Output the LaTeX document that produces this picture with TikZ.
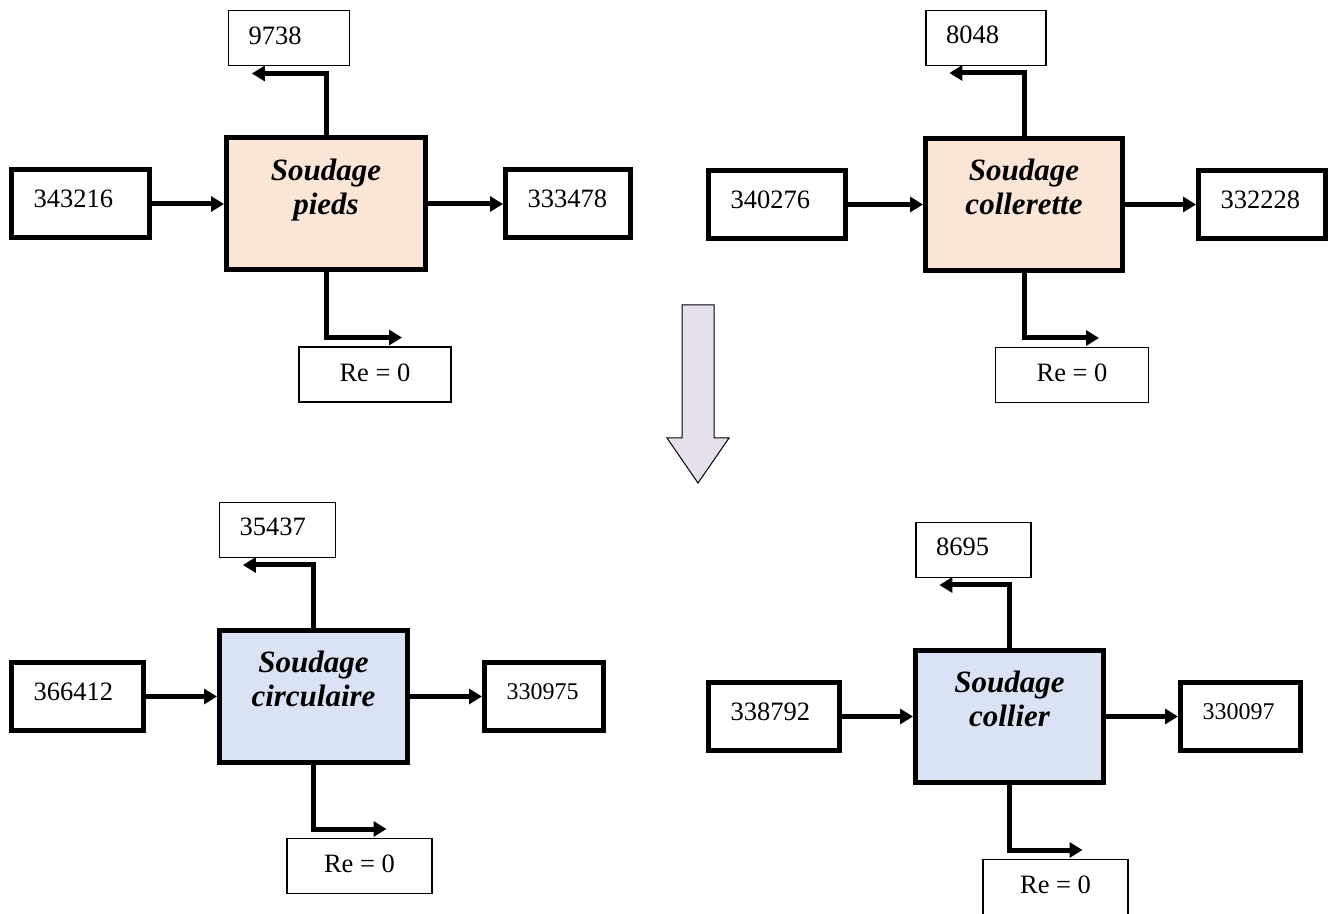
\documentclass[tikz,border=0pt]{standalone}
\usepackage{fontspec}
\setmainfont{Liberation Serif}
\usepackage{xcolor}
\usetikzlibrary{positioning,arrows.meta}
\definecolor{mypeach}{RGB}{251,229,214}
\definecolor{myblue}{RGB}{218,227,243}
\definecolor{mylilac}{RGB}{230,224,236}
\newcommand\numfont{\fontsize{26.5}{30}\selectfont}
\newcommand\smallnumfont{\fontsize{24}{28}\selectfont}
\newcommand\titlefont{\fontsize{31}{34}\selectfont\bfseries\itshape}

\begin{document}
\begin{tikzpicture}[
      x=1pt, y=1pt,
      procbox/.style = {draw, line width=5pt, minimum width=#1,
                        minimum height=132pt, inner sep=0pt, align=center,
                        text depth=35pt, font=\titlefont},
      sidebox/.style = {draw, line width=5pt, text width=#1, align=left,
                        inner xsep=22pt, inner ysep=0pt, minimum height=68pt,
                        text depth=10pt, font=\numfont},
      outbox/.style  = {draw, line width=1.2pt, text width=#1, align=left,
                        inner xsep=20pt, inner ysep=0pt, minimum height=55pt,
                        text depth=6pt, font=\numfont},
      rebox/.style   = {draw, line width=1.2pt, minimum width=#1,
                        inner ysep=0pt, minimum height=55pt,
                        text depth=4pt, font=\numfont},
      arr/.style     = {-{Triangle[length=13pt,width=15pt]}, line width=5pt},
    ]
    \useasboundingbox (0,0) rectangle (1329,913);

    % top left
    \node[procbox=199pt, fill=mypeach] (M1) at (326,709) {Soudage\\pieds};
    \node[sidebox=94pt, left=72pt of M1]  (L1) {343216};
    \node[sidebox=81pt, right=75pt of M1] (R1) {333478};
    \node[outbox=81pt, above=69pt of M1, xshift=-37pt] (T1) {9738};
    \node[rebox=152pt, below=74pt of M1, xshift=49pt]  (B1) {Re = 0};

    % top right
    \node[procbox=197pt, fill=mypeach] (M2) at (1024,708.5) {Soudage\\collerette};
    \node[sidebox=93pt, left=75pt of M2]  (L2) {340276};
    \node[sidebox=83pt, right=71pt of M2] (R2) {332228};
    \node[outbox=80pt, above=70pt of M2, xshift=-38pt] (T2) {8048};
    \node[rebox=153pt, below=74pt of M2, xshift=48pt]  (B2) {Re = 0};

    % bottom left
    \node[procbox=188pt, fill=myblue] (M3) at (313.5,216.5) {Soudage\\circulaire};
    \node[sidebox=88pt, left=71pt of M3]  (L3) {366412};
    \node[sidebox=75pt, right=72pt of M3, font=\smallnumfont] (R3) {330975};
    \node[outbox=76pt, above=70pt of M3, xshift=-36pt] (T3) {35437};
    \node[rebox=145pt, below=73pt of M3, xshift=46pt]  (B3) {Re = 0};

    % bottom right
    \node[procbox=188pt, fill=myblue] (M4) at (1009.5,196.5) {Soudage\\collier};
    \node[sidebox=87pt, left=71pt of M4]  (L4) {338792};
    \node[sidebox=76pt, right=72pt of M4, font=\smallnumfont] (R4) {330097};
    \node[outbox=75pt, above=70pt of M4, xshift=-36pt] (T4) {8695};
    \node[rebox=145pt, below=74pt of M4, xshift=46pt]  (B4) {Re = 0};

    \draw[arr] (L1) -- (M1);
    \draw[arr] (M1) -- (R1);
    \draw[arr] (M1.north) |- ([shift={(24pt,-7pt)}]T1.south west);
    \draw[arr] (M1.south) |- ([shift={(27pt,9pt)}]B1.north);

    \draw[arr] (L2) -- (M2);
    \draw[arr] (M2) -- (R2);
    \draw[arr] (M2.north) |- ([shift={(24pt,-7pt)}]T2.south west);
    \draw[arr] (M2.south) |- ([shift={(27pt,9pt)}]B2.north);

    \draw[arr] (L3) -- (M3);
    \draw[arr] (M3) -- (R3);
    \draw[arr] (M3.north) |- ([shift={(24pt,-7pt)}]T3.south west);
    \draw[arr] (M3.south) |- ([shift={(27pt,9pt)}]B3.north);

    \draw[arr] (L4) -- (M4);
    \draw[arr] (M4) -- (R4);
    \draw[arr] (M4.north) |- ([shift={(24pt,-7pt)}]T4.south west);
    \draw[arr] (M4.south) |- ([shift={(27pt,9pt)}]B4.north);

    % transition arrow
    \draw[line width=1pt, fill=mylilac] (682,608) -- (714,608) -- (714,475)
      -- (729,475) -- (698,430) -- (667,475) -- (682,475) -- cycle;
  \end{tikzpicture}
\end{document}
